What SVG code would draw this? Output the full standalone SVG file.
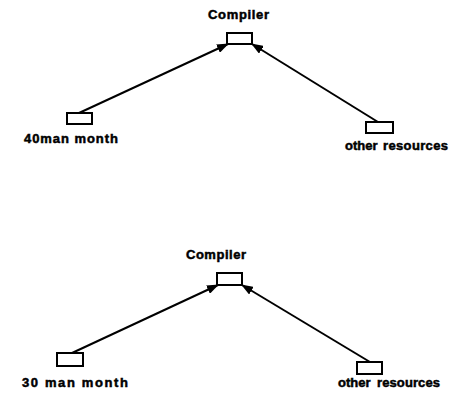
<svg xmlns="http://www.w3.org/2000/svg" width="450" height="394" viewBox="0 0 450 394">
  <style>
    .box { fill: #fff; stroke: #000; stroke-width: 2; }
    .edge { stroke: #000; stroke-width: 2; fill: none; marker-end: url(#arrow); }
    .label { font-family: "Liberation Sans", Arial, sans-serif; font-weight: bold; font-size: 13px; fill: #000; stroke: #000; stroke-width: 0.5; }
  </style>
  <defs>
    <marker id="arrow" viewBox="0 0 12 9" refX="11" refY="4.5" markerWidth="12" markerHeight="9" markerUnits="userSpaceOnUse" orient="auto">
      <path d="M0,0 L12,4.5 L0,9 Z" fill="#000"/>
    </marker>
  </defs>
  <rect width="450" height="394" fill="#fff"/>

  <!-- upper tree -->
  <g id="connectors-upper">
    <line class="edge" x1="79" y1="113" x2="228" y2="44"/>
    <line class="edge" x1="378" y1="122" x2="252" y2="44"/>
  </g>
  <g id="compiler-upper">
    <rect class="box" x="227" y="33" width="25" height="11"/>
    <text class="label" x="208" y="19" textLength="61" lengthAdjust="spacing">Compiler</text>
  </g>
  <g id="man-month-40">
    <rect class="box" x="67" y="113" width="25" height="11"/>
    <text class="label" x="24" y="143" textLength="94" lengthAdjust="spacing">40man month</text>
  </g>
  <g id="other-resources-upper">
    <rect class="box" x="366" y="122" width="27" height="11"/>
    <text class="label" y="150"><tspan x="345">other</tspan> <tspan x="383" textLength="65" lengthAdjust="spacing">resources</tspan></text>
  </g>

  <!-- lower tree -->
  <g id="connectors-lower">
    <line class="edge" x1="72" y1="353" x2="218" y2="285"/>
    <line class="edge" x1="370" y1="362" x2="242" y2="285"/>
  </g>
  <g id="compiler-lower">
    <rect class="box" x="217" y="273" width="25" height="12"/>
    <text class="label" x="186" y="259" textLength="60" lengthAdjust="spacing">Compiler</text>
  </g>
  <g id="man-month-30">
    <rect class="box" x="57" y="353" width="26" height="13"/>
    <text class="label" x="22" y="387" textLength="106" lengthAdjust="spacing">30 man month</text>
  </g>
  <g id="other-resources-lower">
    <rect class="box" x="357" y="362" width="25" height="12"/>
    <text class="label" y="387"><tspan x="338">other</tspan> <tspan x="377" textLength="63" lengthAdjust="spacing">resources</tspan></text>
  </g>
</svg>
